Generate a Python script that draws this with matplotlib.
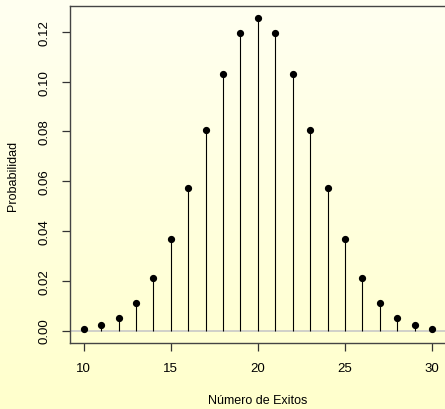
import numpy as np
import matplotlib
matplotlib.use("Agg")
import matplotlib.pyplot as plt

plt.rcParams['font.family'] = ['Liberation Sans', 'DejaVu Sans']

# exitos y probabilidades
exitos = [10, 11, 12, 13, 14, 15, 16, 17, 18, 19, 20,
          21, 22, 23, 24, 25, 26, 27, 28, 29, 30]
probabilidad = [0.0008, 0.0021, 0.0051, 0.0109, 0.0211, 0.0366, 0.0572,
                0.0807, 0.1031, 0.1194, 0.1254, 0.1194, 0.1031, 0.0807,
                0.0572, 0.0366, 0.0211, 0.0109, 0.0051, 0.0021, 0.0008]
xticks = [10, 15, 20, 25, 30]
yticks = [0.00, 0.02, 0.04, 0.06, 0.08, 0.10, 0.12]

fig = plt.figure(figsize=(4.45, 4.1), dpi=100)

# fondo degradado
bg = fig.add_axes([0, 0, 1, 1], zorder=-10)
grad = np.linspace(0, 1, 256).reshape(-1, 1)
top = np.array([1.0, 1.0, 0.945])
bot = np.array([1.0, 1.0, 0.80])
img = top + (bot - top) * grad[:, :, None]
bg.imshow(img, aspect='auto', extent=[0, 1, 0, 1])
bg.axis('off')

ax = fig.add_axes([0.157, 0.161, 0.845, 0.822])
ax.set_facecolor('none')
ax.axhline(0, color='#c8c8c8', lw=1.2, zorder=1)
ax.vlines(exitos, 0, probabilidad, colors='black', lw=0.8, zorder=2)
ax.plot(exitos, probabilidad, 'o', color='black', ms=4.2, zorder=3)

ax.set_xlim(9.2, 30.8)
ax.set_ylim(-0.005, 0.1304)
ax.set_xticks(xticks)
ax.set_xticklabels([str(t) for t in xticks])
ax.set_yticks(yticks)
ax.set_yticklabels([f"{t:.2f}" for t in yticks], rotation=90, va='center')
ax.tick_params(direction='out', length=6, width=0.9, labelsize=9.5, pad=8, color='#333333')
for s in ax.spines.values():
    s.set_color('#444444')
    s.set_linewidth(1.0)

ax.set_xlabel('Número de Exitos', fontsize=9, labelpad=14)
ax.set_ylabel('Probabilidad', fontsize=9, labelpad=14)

fig.savefig('out.png', dpi=100)
